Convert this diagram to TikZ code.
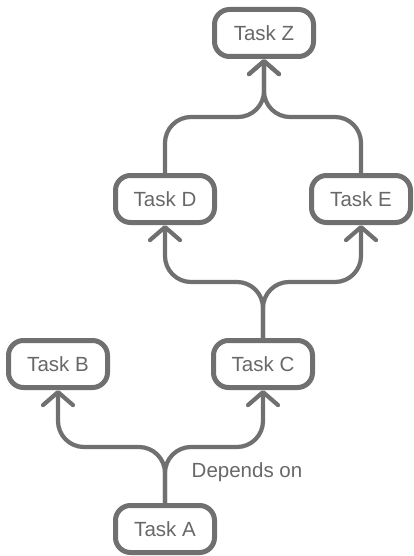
\documentclass[tikz,border=0pt]{standalone}
\usepackage{fontspec}
\setmainfont{Liberation Sans}
\usetikzlibrary{arrows.meta}
\definecolor{ink}{RGB}{112,112,112}
\definecolor{txt}{RGB}{104,104,104}
\begin{document}
\begin{tikzpicture}[x=1pt,y=-1pt,
  task/.style={draw=ink, line width=5pt, fill=white, rounded corners=15pt,
    minimum width=99pt, minimum height=47pt, inner sep=0pt,
    text=txt, font=\fontsize{20.5}{24}\selectfont},
  link/.style={draw=ink, line width=4.2pt, rounded corners=26pt,
    -{Straight Barb[length=13pt,width=30pt,round]}},
  lbl/.style={text=txt, font=\fontsize{20.5}{24}\selectfont}]
\useasboundingbox[fill=white] (0,0) rectangle (414,556);
\node[task] (Z) at (264,33) {Task Z};
\node[task] (D) at (165,199) {Task D};
\node[task] (E) at (361,199) {Task E};
\node[task] (B) at (58,364) {Task B};
\node[task] (C) at (263,364) {Task C};
\node[task] (A) at (165,529) {Task A};
% A -> B, C
\draw[link] (A.north) -- (165,447) -- (58,447) -- (B.south);
\draw[link] (A.north) -- (165,447) -- (263,447) -- (C.south);
% C -> D, E
\draw[link] (C.north) -- (263,282) -- (165,282) -- (D.south);
\draw[link] (C.north) -- (263,282) -- (361,282) -- (E.south);
% D, E -> Z
\draw[link] (D.north) -- (165,117) -- (264,117) -- (Z.south);
\draw[link] (E.north) -- (361,117) -- (264,117) -- (Z.south);
\node[lbl] (dep) at (247,472) {Depends on};
\end{tikzpicture}
\end{document}
